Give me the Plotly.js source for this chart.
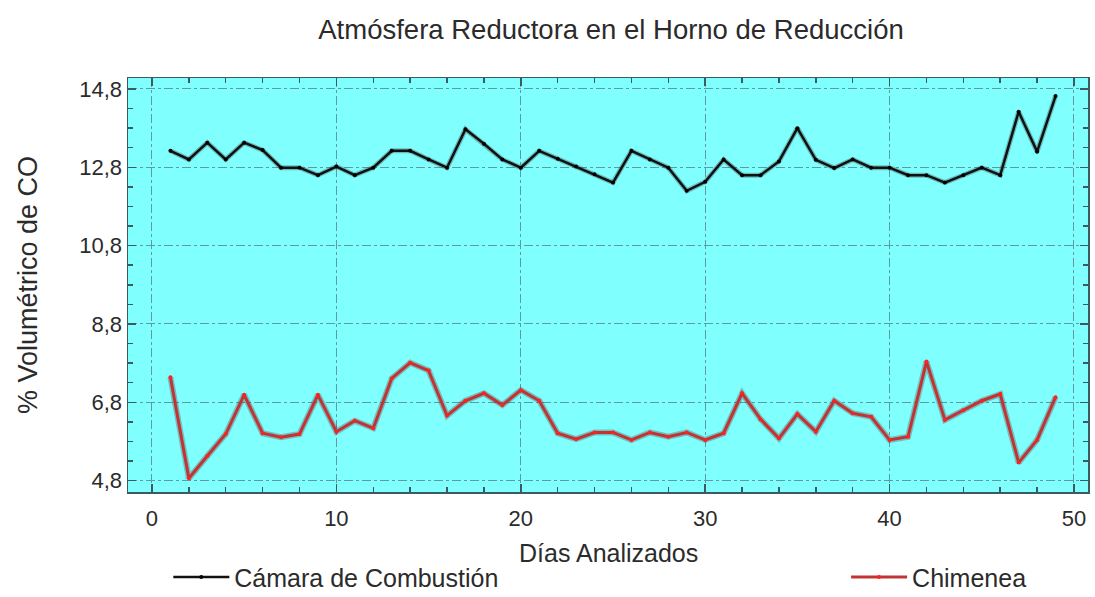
<!DOCTYPE html>
<html>
<head>
<meta charset="utf-8">
<script src="https://cdn.plot.ly/plotly-3.0.1.min.js"></script>
<style>html,body{margin:0;padding:0;background:#fff}#chart{width:1095px;height:597px}</style>
</head>
<body>
<div id="chart"></div>
<script>
const dias = [1,2,3,4,5,6,7,8,9,10,11,12,13,14,15,16,17,18,19,20,21,22,23,24,25,26,27,28,29,30,31,32,33,34,35,36,37,38,39,40,41,42,43,44,45,46,47,48,49];
const camara = [13.22,13.0,13.43,13.0,13.43,13.24,12.79,12.79,12.6,12.82,12.6,12.79,13.22,13.22,13.0,12.79,13.77,13.4,13.0,12.79,13.22,13.02,12.82,12.62,12.41,13.22,13.0,12.79,12.2,12.43,13.0,12.6,12.6,12.95,13.8,12.99,12.78,13.0,12.79,12.79,12.6,12.6,12.41,12.6,12.79,12.6,14.22,13.2,14.62];
const chimenea = [7.44,4.86,5.43,5.99,6.99,6.01,5.91,5.99,6.99,6.05,6.33,6.14,7.41,7.81,7.61,6.46,6.84,7.03,6.73,7.11,6.84,6.01,5.86,6.03,6.03,5.84,6.03,5.92,6.03,5.84,6.01,7.03,6.37,5.88,6.5,6.05,6.84,6.52,6.43,5.84,5.92,7.84,6.35,6.6,6.84,7.01,5.26,5.84,6.93];
const yTicks = [4.8,6.8,8.8,10.8,12.8,14.8];
const yTickText = ['4,8','6,8','8,8','10,8','12,8','14,8'];
const xTicks = [0,10,20,30,40,50];
const serieNames = ['Cámara de Combustión','Chimenea'];
const xTitle = 'Días Analizados';

const font = 'Liberation Sans, Arial, sans-serif';
const txt = '#2b2b2b';
const traces = [
  {x: dias, y: camara, type:'scatter', mode:'lines', line:{color:'rgba(60,60,60,0.35)', width:5}, showlegend:false, hoverinfo:'skip'},
  {x: dias, y: chimenea, type:'scatter', mode:'lines', line:{color:'rgba(90,40,40,0.3)', width:6}, showlegend:false, hoverinfo:'skip'},
  {x: dias, y: camara, name: serieNames[0], type:'scatter', mode:'lines+markers',
   line:{color:'#111', width:2.5}, marker:{color:'#000', size:4}, legend:'legend'},
  {x: dias, y: chimenea, name: serieNames[1], type:'scatter', mode:'lines+markers',
   line:{color:'#c23434', width:3}, marker:{color:'#ff2020', size:4}, legend:'legend2'}
];
const axisCommon = {
  showline:true, linecolor:'#3c5a5f', linewidth:1.5, mirror:'ticks', automargin:false,
  ticks:'inside', ticklen:8, tickcolor:'#3c5a5f', tickwidth:1.5,
  showgrid:true, gridcolor:'#5e9aa3', griddash:'dashdot', gridwidth:1,
  zeroline:false, tickfont:{family:font, size:22, color:txt}
};
const layout = {
  width:1095, height:597,
  margin:{l:128, r:7, t:78, b:105, autoexpand:false},
  paper_bgcolor:'#ffffff', plot_bgcolor:'#80ffff',
  title:{text:'Atmósfera Reductora en el Horno de Reducción', x:0.558, xanchor:'center', y:0.95, yanchor:'middle',
         font:{family:font, size:27.5, color:txt}},
  xaxis: Object.assign({}, axisCommon, {
    range:[-1.3, 50.76], tickvals:xTicks, ticktext:xTicks.map(String), ticklabelstandoff:6,
    minor:{dtick:2, tick0:0, ticks:'inside', ticklen:5, tickcolor:'#3c5a5f', showgrid:false}
  }),
  yaxis: Object.assign({}, axisCommon, {
    range:[4.51, 15.08], tickvals:yTicks, ticktext:yTickText,
    minor:{dtick:0.5, tick0:4.8, ticks:'inside', ticklen:5, tickcolor:'#3c5a5f', showgrid:false},
    title:{text:'% Volumétrico de CO', font:{family:font, size:27, color:txt}, standoff:34}
  }),
  annotations:[{text:xTitle, xref:'paper', yref:'paper', x:0.5, y:-0.148, xanchor:'center', yanchor:'middle',
                showarrow:false, font:{family:font, size:25, color:txt}}],
  legend:{x:0.042, y:0.033, yref:'container', xanchor:'left', yanchor:'middle', orientation:'h', bgcolor:'rgba(0,0,0,0)',
          font:{family:font, size:25, color:txt}, itemwidth:56},
  legend2:{x:0.748, y:0.033, yref:'container', xanchor:'left', yanchor:'middle', orientation:'h', bgcolor:'rgba(0,0,0,0)',
          font:{family:font, size:25, color:txt}, itemwidth:56}
};
Plotly.newPlot('chart', traces, layout, {displayModeBar:false, staticPlot:true});
</script>
</body>
</html>
